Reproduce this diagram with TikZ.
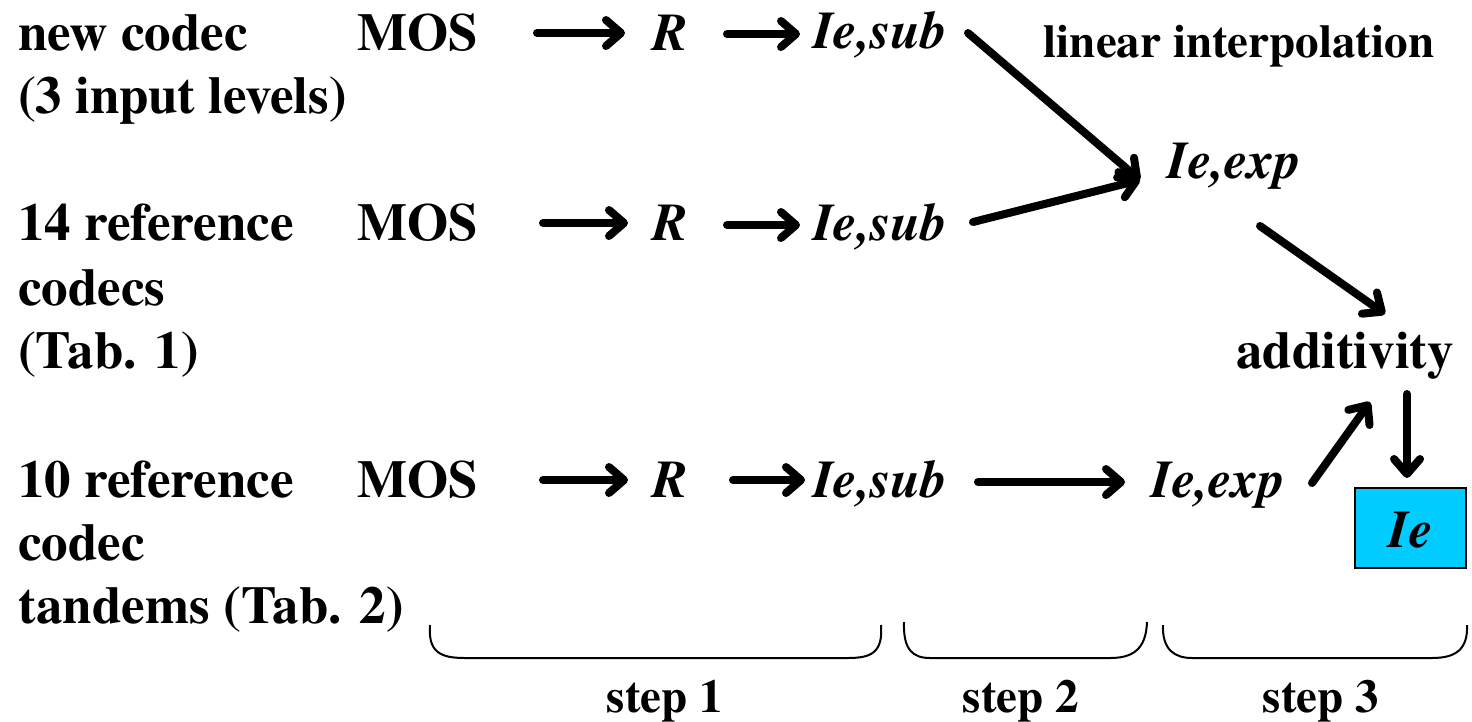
\documentclass[tikz,border=0pt]{standalone}
\usepackage{fontspec}
\setmainfont{TeX Gyre Termes}
\usetikzlibrary{arrows.meta}
\begin{document}
\begin{tikzpicture}[x=1pt,y=-1pt,
  lbl/.style={inner sep=0pt,anchor=base west,font=\fontsize{53}{60}\selectfont\bfseries},
  ctr/.style={inner sep=0pt,anchor=base,font=\fontsize{53}{60}\selectfont\bfseries},
  var/.style={inner sep=0pt,anchor=base,font=\fontsize{53}{60}\selectfont\bfseries\itshape},
  steplbl/.style={inner sep=0pt,anchor=base,font=\fontsize{47}{54}\selectfont\bfseries},
  arr/.style={line width=8pt,line cap=round,line join=round,
    -{Straight Barb[length=15pt,width=26pt,line cap=round,line join=round]}},
  brace/.style={line width=2pt},
  result/.style={draw=black,line width=2pt,fill=ieblue,minimum width=111pt,minimum height=80pt,inner sep=0pt}]
\definecolor{ieblue}{RGB}{0,204,255}
\useasboundingbox (0,0) rectangle (1472,721);

% source descriptions
\node[lbl] (n1a) at (18,50) {new codec};
\node[lbl] (n1b) at (18,113) {(3 input levels)};
\node[lbl] (n2a) at (18,240) {14 reference};
\node[lbl] (n2b) at (18,305) {codecs};
\node[lbl] (n2c) at (18,368) {(Tab. 1)};
\node[lbl] (n3a) at (18,497) {10 reference};
\node[lbl] (n3b) at (18,560) {codec};
\node[lbl] (n3c) at (18,623) {tandems (Tab. 2)};

% step 1 chains
\node[ctr] (mos1) at (418,50) {MOS};
\node[var] (r1) at (670,50) {R};
\node[var] (sub1) at (880,48) {Ie,sub};
\node[ctr] (mos2) at (418,240) {MOS};
\node[var] (r2) at (670,240) {R};
\node[var] (sub2) at (880,240) {Ie,sub};
\node[ctr] (mos3) at (418,497) {MOS};
\node[var] (r3) at (670,497) {R};
\node[var] (sub3) at (880,497) {Ie,sub};

% steps 2 and 3
\node[steplbl] (lin) at (1239,57) {linear interpolation};
\node[var] (exp1) at (1234,178) {Ie,exp};
\node[var] (exp3) at (1218,497) {Ie,exp};
\node[ctr] (add) at (1345,368) {additivity};
\node[result] (ie) at (1410.5,528) {};
\node[var] at (ie.center) [anchor=center,yshift=-2pt] {Ie};

% arrow end points
\coordinate (a1s) at (537,33);  \coordinate (a1e) at (625,33);
\coordinate (b1s) at (727,34);  \coordinate (b1e) at (800,34);
\coordinate (a2s) at (543,223); \coordinate (a2e) at (628,223);
\coordinate (b2s) at (727,225); \coordinate (b2e) at (800,225);
\coordinate (a3s) at (543,480); \coordinate (a3e) at (628,480);
\coordinate (b3s) at (733,480); \coordinate (b3e) at (805,480);
\coordinate (c3s) at (978,482); \coordinate (c3e) at (1125,482);
\coordinate (d1s) at (968,33);  \coordinate (d1e) at (1140,180);
\coordinate (d2s) at (973,222); \coordinate (d2e) at (1140,180);
\coordinate (e1s) at (1260,226); \coordinate (e1e) at (1385,314);
\coordinate (e3s) at (1312,483); \coordinate (e3e) at (1370,402);
\coordinate (fs) at (1407,394);  \coordinate (fe) at (1407,478);

\draw[arr] (a1s) -- (a1e);
\draw[arr] (b1s) -- (b1e);
\draw[arr] (a2s) -- (a2e);
\draw[arr] (b2s) -- (b2e);
\draw[arr] (a3s) -- (a3e);
\draw[arr] (b3s) -- (b3e);
\draw[arr] (c3s) -- (c3e);
\draw[arr] (d1s) -- (d1e);
\draw[arr] (d2s) -- (d2e);
\draw[arr] (e1s) -- (e1e);
\draw[arr] (e3s) -- (e3e);
\draw[arr] (fs) -- (fe);

% step braces
\draw[brace] (430,625) .. controls (428,652) and (440,658) .. (465,658)
  -- (848,658) .. controls (872,658) and (883,652) .. (881,625);
\draw[brace] (904,622) .. controls (903,650) and (913,658) .. (930,658)
  -- (1110,658) .. controls (1132,658) and (1146,650) .. (1147,622);
\draw[brace] (1163,625) .. controls (1162,650) and (1175,658) .. (1192,658)
  -- (1432,658) .. controls (1455,658) and (1468,650) .. (1467,625);

\node[steplbl] (s1) at (665,712) {step 1};
\node[steplbl] (s2) at (1021,712) {step 2};
\node[steplbl] (s3) at (1321,712) {step 3};
\end{tikzpicture}
\end{document}
